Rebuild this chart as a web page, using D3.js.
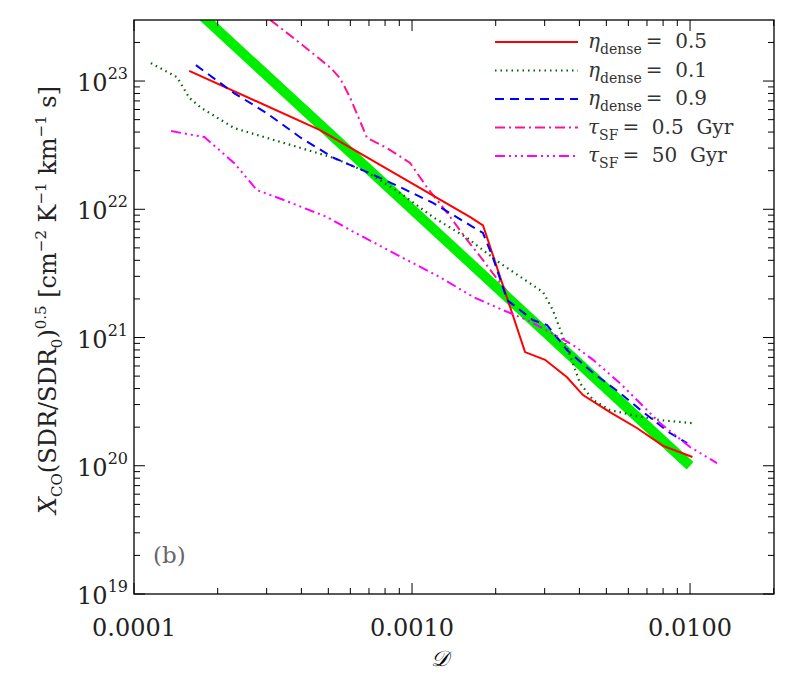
<!DOCTYPE html>
<html><head><meta charset="utf-8">
<script src="https://cdn.jsdelivr.net/npm/d3@7"></script>
<style>body{margin:0;background:#fff}svg{font-family:"DejaVu Serif","Liberation Serif",serif}</style>
</head><body><svg id="c" width="789" height="676"></svg>
<script>
const xTickVals=[0.0001,0.001,0.01];
const xTickLabels=["0.0001","0.0010","0.0100"];
const yTickExps=[19,20,21,22,23];

const redD=[1.58e-4,4.67e-4,1.62e-3,1.80e-3,2.55e-3,3.01e-3,3.61e-3,4.12e-3,5.15e-3,6.44e-3,8.0e-3,0.0102];
const redX=[1.2e23,4.15e22,8.7e21,7.5e21,7.7e20,6.7e20,4.9e20,3.56e20,2.62e20,1.97e20,1.43e20,1.17e20];
const dotD=[1.15e-4,1.43e-4,1.58e-4,1.74e-4,2.29e-4,3.01e-4,3.99e-4,5.24e-4,6.89e-4,9.06e-4,1.19e-3,1.58e-3,2.07e-3,2.96e-3,3.21e-3,3.49e-3,3.79e-3,4.02e-3,4.48e-3,5.15e-3,6.44e-3,7.8e-3,0.0102];
const dotX=[1.38e23,1.07e23,7.4e22,6.2e22,4.3e22,3.6e22,3.0e22,2.51e22,1.95e22,1.34e22,8.7e21,5.97e21,3.81e21,2.26e21,1.64e21,1.01e21,6.3e20,4.4e20,3.26e20,2.72e20,2.44e20,2.27e20,2.15e20];
const blueD=[1.67e-4,2.29e-4,3.01e-4,3.99e-4,5.24e-4,6.89e-4,9.06e-4,1.19e-3,1.62e-3,1.80e-3,1.95e-3,2.2e-3,2.72e-3,3.06e-3,3.61e-3,4.48e-3,5.6e-3,6.78e-3,8.47e-3,9.76e-3];
const blueX=[1.33e23,8.06e22,5.6e22,3.6e22,2.51e22,1.95e22,1.49e22,1.12e22,7.5e21,6.53e21,4.25e21,1.96e21,1.37e21,1.25e21,8.0e20,5.3e20,3.69e20,2.62e20,1.8e20,1.5e20];
const pinkD=[3.09e-4,3.95e-4,5.11e-4,5.51e-4,5.98e-4,6.89e-4,8.13e-4,9.84e-4,1.13e-3,1.34e-3,1.58e-3,1.80e-3,1.95e-3,2.5e-3,4e-3,6e-3,1e-2];
const pinkX=[3.0e23,1.98e23,1.26e23,1.05e23,7.5e22,3.6e22,3.0e22,2.3e22,1.49e22,9.35e21,5.75e21,4.02e21,3.18e21,1.6e21,6.25e20,2.8e20,1.0e20];
const magD=[1.36e-4,1.79e-4,2.29e-4,2.77e-4,3.46e-4,4.95e-4,5.98e-4,9.29e-4,1.26e-3,1.66e-3,2.12e-3,2.59e-3,3.14e-3,3.79e-3,4.48e-3,5.6e-3,6.44e-3,7.8e-3,0.01,0.0125];
const magX=[4.07e22,3.66e22,2.3e22,1.41e22,1.18e22,8.7e21,6.9e21,4.17e21,2.96e21,2.07e21,1.64e21,1.37e21,1.10e21,8.75e20,6.7e20,4.4e20,3.26e20,2.15e20,1.4e20,1.05e20];
const fitD=[1.6e-4,0.01];
const fitX=[3.9e23,1.0e20];

const L=134,R=774,T=20,B=594;
const x=d3.scaleLog().domain([1e-4,Math.pow(10,-1.698)]).range([L,R]);
const y=d3.scaleLog().domain([1e19,Math.pow(10,23.476)]).range([B,T]);
const svg=d3.select("#c");
svg.append("defs").append("clipPath").attr("id","cp").append("rect").attr("x",L).attr("y",T).attr("width",R-L).attr("height",B-T);
const g=svg.append("g").attr("clip-path","url(#cp)");
const line=d3.line().x(d=>x(d[0])).y(d=>y(d[1]));
function draw(D,X,color,w,dash){
  g.append("path").datum(D.map((d,i)=>[d,X[i]])).attr("d",line).attr("fill","none")
   .attr("stroke",color).attr("stroke-width",w).attr("stroke-dasharray",dash||null);
}
const series=[
 {D:pinkD,X:pinkX,c:"#ff1493",w:2,dash:"10,4,2,4",lab:["τ","SF","=  0.5  Gyr"]},
 {D:fitD,X:fitX,c:"#00ee00",w:10,dash:null},
 {D:redD,X:redX,c:"#ff0000",w:2,dash:null,lab:["η","dense","=  0.5"]},
 {D:dotD,X:dotX,c:"#006400",w:2.2,dash:"1.5,4",lab:["η","dense","=  0.1"]},
 {D:blueD,X:blueX,c:"#0000ff",w:2,dash:"9,6",lab:["η","dense","=  0.9"]},
 {D:magD,X:magX,c:"#ff00ff",w:2,dash:"10,4,2,4,2,4,2,4",lab:["τ","SF","=  50  Gyr"]}
];
series.forEach(s=>draw(s.D,s.X,s.c,s.w,s.dash));

svg.append("rect").attr("x",L).attr("y",T).attr("width",R-L).attr("height",B-T).attr("fill","none").attr("stroke","#000").attr("stroke-width",1.3);
const tk=svg.append("g").attr("stroke","#000").attr("stroke-width",1);
for(let e=-4;e<=-2;e++)for(let m=1;m<=9;m++){const v=m*Math.pow(10,e);if(v>x.domain()[1])continue;const px=x(v),len=m===1?11:6;
 tk.append("line").attr("x1",px).attr("x2",px).attr("y1",B).attr("y2",B-len);
 tk.append("line").attr("x1",px).attr("x2",px).attr("y1",T).attr("y2",T+len);}
for(let e=19;e<=23;e++)for(let m=1;m<=9;m++){const v=m*Math.pow(10,e);if(v>y.domain()[1])continue;const py=y(v),len=m===1?11:6;
 tk.append("line").attr("y1",py).attr("y2",py).attr("x1",L).attr("x2",L+len);
 tk.append("line").attr("y1",py).attr("y2",py).attr("x1",R).attr("x2",R-len);}
xTickVals.forEach((v,i)=>svg.append("text").attr("x",x(v)).attr("y",636).attr("text-anchor","middle").attr("font-size",24).attr("fill","#222").text(xTickLabels[i]));
yTickExps.forEach(e=>{const t=svg.append("text").attr("x",L-6).attr("y",y(Math.pow(10,e))+10).attr("text-anchor","end").attr("font-size",24).attr("fill","#222");
 t.append("tspan").text("10");t.append("tspan").attr("dy",-12).attr("font-size",16).text(e);});
svg.append("text").attr("x",440).attr("y",666).attr("text-anchor","middle").attr("font-size",22).attr("font-style","italic").text("𝒟");
const yt=svg.append("text").attr("transform","translate(56,300) rotate(-90)").attr("text-anchor","middle").attr("font-size",24).attr("fill","#222");
yt.append("tspan").attr("font-style","italic").text("X");
yt.append("tspan").attr("dy",6).attr("font-size",15).text("CO");
yt.append("tspan").attr("dy",-6).text("(SDR/SDR");
yt.append("tspan").attr("dy",6).attr("font-size",15).text("0");
yt.append("tspan").attr("dy",-6).text(")");
yt.append("tspan").attr("dy",-10).attr("font-size",15).text("0.5");
yt.append("tspan").attr("dy",10).text(" [cm");
yt.append("tspan").attr("dy",-10).attr("font-size",15).text("−2");
yt.append("tspan").attr("dy",10).text(" K");
yt.append("tspan").attr("dy",-10).attr("font-size",15).text("−1");
yt.append("tspan").attr("dy",10).text(" km");
yt.append("tspan").attr("dy",-10).attr("font-size",15).text("−1");
yt.append("tspan").attr("dy",10).text(" s]");
svg.append("text").attr("x",153).attr("y",563).attr("font-size",23).attr("fill","#666").text("(b)");
const order=[2,3,4,0,5];
order.forEach((si,i)=>{const s=series[si];const ly=42+i*28.5;
 svg.append("line").attr("x1",495).attr("x2",578).attr("y1",ly).attr("y2",ly).attr("stroke",s.c).attr("stroke-width",2).attr("stroke-dasharray",s.dash||null);
 const t=svg.append("text").attr("x",588).attr("y",ly+6).attr("font-size",20).attr("fill","#333").attr("xml:space","preserve");
 t.append("tspan").attr("font-style","italic").text(s.lab[0]);
 t.append("tspan").attr("dy",6).attr("font-size",14).text(s.lab[1]);
 t.append("tspan").attr("dy",-6).attr("dx",4).text(s.lab[2]);
});
</script></body></html>
